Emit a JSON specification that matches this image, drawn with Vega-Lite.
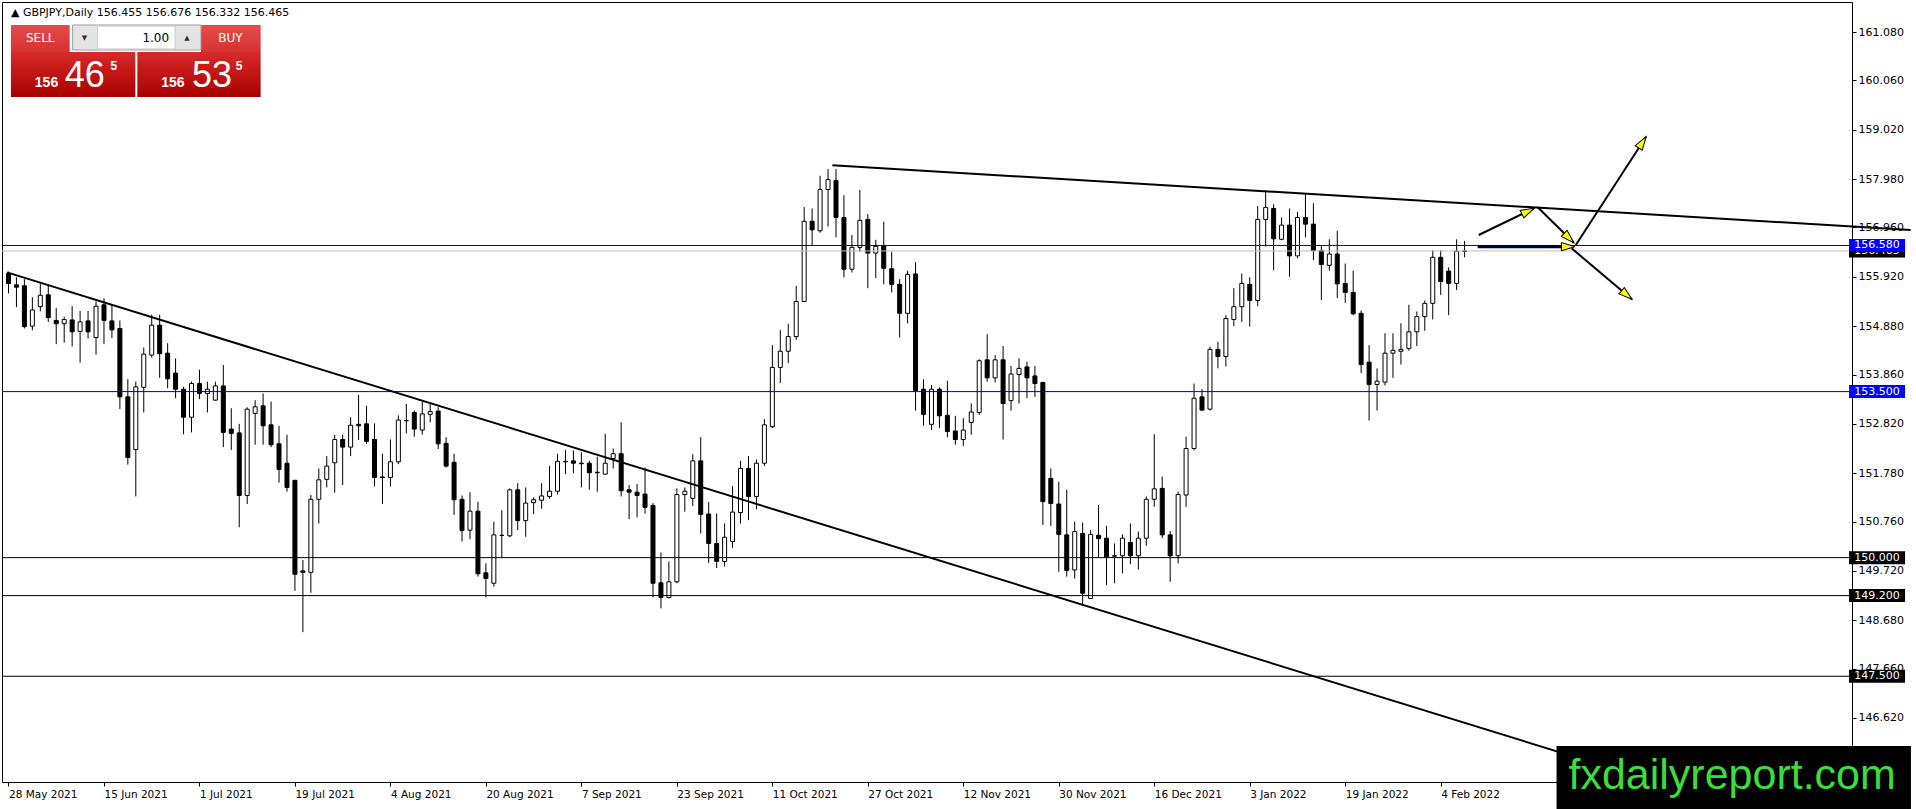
{
  "$schema": "https://vega.github.io/schema/vega-lite/v6.json",
  "width": 1850,
  "height": 780,
  "autosize": {"type": "none"},
  "padding": {"left": 2, "top": 2, "right": 64, "bottom": 27},
  "background": "white",
  "config": {
    "font": "DejaVu Sans",
    "view": {"stroke": "black", "strokeWidth": 1},
    "axis": {"grid": false, "domain": false, "labelColor": "black", "tickColor": "black"}
  },
  "datasets": {
    "candles": [
      {"d":"2021-05-28","i":0,"o":155.99,"h":156.03,"l":155.57,"c":155.78},
      {"d":"2021-05-31","i":1,"o":155.75,"h":155.91,"l":155.28,"c":155.70},
      {"d":"2021-06-01","i":2,"o":155.73,"h":155.87,"l":154.83,"c":154.87},
      {"d":"2021-06-02","i":3,"o":154.88,"h":155.49,"l":154.79,"c":155.22},
      {"d":"2021-06-03","i":4,"o":155.29,"h":155.78,"l":155.19,"c":155.53},
      {"d":"2021-06-04","i":5,"o":155.54,"h":155.75,"l":154.97,"c":155.06},
      {"d":"2021-06-07","i":6,"o":155.00,"h":155.26,"l":154.50,"c":154.93},
      {"d":"2021-06-08","i":7,"o":154.93,"h":155.08,"l":154.53,"c":155.02},
      {"d":"2021-06-09","i":8,"o":155.01,"h":155.30,"l":154.45,"c":154.76},
      {"d":"2021-06-10","i":9,"o":154.77,"h":155.20,"l":154.11,"c":154.97},
      {"d":"2021-06-11","i":10,"o":154.99,"h":155.20,"l":154.62,"c":154.76},
      {"d":"2021-06-14","i":11,"o":154.64,"h":155.40,"l":154.28,"c":155.30},
      {"d":"2021-06-15","i":12,"o":155.33,"h":155.47,"l":154.50,"c":155.00},
      {"d":"2021-06-16","i":13,"o":154.99,"h":155.33,"l":154.63,"c":154.80},
      {"d":"2021-06-17","i":14,"o":154.83,"h":155.00,"l":153.13,"c":153.39},
      {"d":"2021-06-18","i":15,"o":153.39,"h":153.76,"l":151.96,"c":152.11},
      {"d":"2021-06-21","i":16,"o":152.28,"h":153.71,"l":151.29,"c":153.60},
      {"d":"2021-06-22","i":17,"o":153.59,"h":154.43,"l":153.06,"c":154.29},
      {"d":"2021-06-23","i":18,"o":154.27,"h":155.12,"l":154.22,"c":154.90},
      {"d":"2021-06-24","i":19,"o":154.90,"h":155.12,"l":153.79,"c":154.30},
      {"d":"2021-06-25","i":20,"o":154.31,"h":154.52,"l":153.57,"c":153.77},
      {"d":"2021-06-28","i":21,"o":153.89,"h":154.20,"l":153.36,"c":153.55},
      {"d":"2021-06-29","i":22,"o":153.55,"h":153.60,"l":152.60,"c":152.96},
      {"d":"2021-06-30","i":23,"o":152.96,"h":153.71,"l":152.64,"c":153.67},
      {"d":"2021-07-01","i":24,"o":153.67,"h":153.96,"l":153.34,"c":153.46},
      {"d":"2021-07-02","i":25,"o":153.46,"h":153.71,"l":153.06,"c":153.55},
      {"d":"2021-07-05","i":26,"o":153.32,"h":153.71,"l":153.31,"c":153.62},
      {"d":"2021-07-06","i":27,"o":153.62,"h":154.06,"l":152.33,"c":152.64},
      {"d":"2021-07-07","i":28,"o":152.71,"h":153.15,"l":152.27,"c":152.62},
      {"d":"2021-07-08","i":29,"o":152.63,"h":152.82,"l":150.64,"c":151.31},
      {"d":"2021-07-09","i":30,"o":151.31,"h":153.17,"l":151.13,"c":153.13},
      {"d":"2021-07-12","i":31,"o":153.04,"h":153.32,"l":152.38,"c":153.18},
      {"d":"2021-07-13","i":32,"o":153.20,"h":153.46,"l":152.38,"c":152.78},
      {"d":"2021-07-14","i":33,"o":152.80,"h":153.29,"l":152.33,"c":152.38},
      {"d":"2021-07-15","i":34,"o":152.40,"h":152.78,"l":151.58,"c":151.86},
      {"d":"2021-07-16","i":35,"o":151.99,"h":152.59,"l":151.39,"c":151.48},
      {"d":"2021-07-19","i":36,"o":151.63,"h":151.64,"l":149.30,"c":149.65},
      {"d":"2021-07-20","i":37,"o":149.72,"h":149.95,"l":148.43,"c":149.69},
      {"d":"2021-07-21","i":38,"o":149.69,"h":151.32,"l":149.26,"c":151.23},
      {"d":"2021-07-22","i":39,"o":151.23,"h":151.88,"l":150.72,"c":151.64},
      {"d":"2021-07-23","i":40,"o":151.65,"h":152.14,"l":151.48,"c":151.93},
      {"d":"2021-07-26","i":41,"o":152.00,"h":152.59,"l":151.37,"c":152.49},
      {"d":"2021-07-27","i":42,"o":152.49,"h":152.59,"l":151.53,"c":152.33},
      {"d":"2021-07-28","i":43,"o":152.33,"h":152.96,"l":152.14,"c":152.79},
      {"d":"2021-07-29","i":44,"o":152.81,"h":153.43,"l":152.48,"c":152.78},
      {"d":"2021-07-30","i":45,"o":152.82,"h":153.20,"l":152.40,"c":152.45},
      {"d":"2021-08-02","i":46,"o":152.49,"h":152.83,"l":151.50,"c":151.69},
      {"d":"2021-08-03","i":47,"o":151.70,"h":152.19,"l":151.13,"c":151.69},
      {"d":"2021-08-04","i":48,"o":151.69,"h":152.49,"l":151.50,"c":152.02},
      {"d":"2021-08-05","i":49,"o":152.02,"h":153.00,"l":151.97,"c":152.90},
      {"d":"2021-08-06","i":50,"o":152.885,"h":153.24,"l":152.62,"c":152.89},
      {"d":"2021-08-09","i":51,"o":153.06,"h":153.10,"l":152.55,"c":152.71},
      {"d":"2021-08-10","i":52,"o":152.69,"h":153.29,"l":152.59,"c":153.03},
      {"d":"2021-08-11","i":53,"o":153.02,"h":153.25,"l":152.85,"c":153.08},
      {"d":"2021-08-12","i":54,"o":153.09,"h":153.17,"l":152.29,"c":152.40},
      {"d":"2021-08-13","i":55,"o":152.41,"h":152.54,"l":151.90,"c":151.93},
      {"d":"2021-08-16","i":56,"o":152.01,"h":152.19,"l":150.90,"c":151.22},
      {"d":"2021-08-17","i":57,"o":151.23,"h":151.31,"l":150.34,"c":150.57},
      {"d":"2021-08-18","i":58,"o":150.58,"h":151.38,"l":150.39,"c":150.98},
      {"d":"2021-08-19","i":59,"o":150.98,"h":151.18,"l":149.60,"c":149.66},
      {"d":"2021-08-20","i":60,"o":149.68,"h":149.88,"l":149.16,"c":149.56},
      {"d":"2021-08-23","i":61,"o":149.46,"h":150.76,"l":149.39,"c":150.48},
      {"d":"2021-08-24","i":62,"o":150.47,"h":151.00,"l":150.01,"c":150.47},
      {"d":"2021-08-25","i":63,"o":150.46,"h":151.46,"l":150.43,"c":151.43},
      {"d":"2021-08-26","i":64,"o":151.43,"h":151.57,"l":150.58,"c":150.78},
      {"d":"2021-08-27","i":65,"o":150.78,"h":151.48,"l":150.44,"c":151.15},
      {"d":"2021-08-30","i":66,"o":151.16,"h":151.27,"l":150.92,"c":151.22},
      {"d":"2021-08-31","i":67,"o":151.21,"h":151.57,"l":151.03,"c":151.30},
      {"d":"2021-09-01","i":68,"o":151.29,"h":151.93,"l":151.24,"c":151.40},
      {"d":"2021-09-02","i":69,"o":151.40,"h":152.19,"l":151.33,"c":152.03},
      {"d":"2021-09-03","i":70,"o":152.03,"h":152.27,"l":151.76,"c":152.02},
      {"d":"2021-09-06","i":71,"o":152.04,"h":152.26,"l":151.78,"c":151.99},
      {"d":"2021-09-07","i":72,"o":151.99,"h":152.22,"l":151.48,"c":151.98},
      {"d":"2021-09-08","i":73,"o":151.99,"h":152.04,"l":151.43,"c":151.79},
      {"d":"2021-09-09","i":74,"o":151.80,"h":152.13,"l":151.39,"c":151.79},
      {"d":"2021-09-10","i":75,"o":151.76,"h":152.61,"l":151.75,"c":151.99},
      {"d":"2021-09-13","i":76,"o":152.09,"h":152.30,"l":151.88,"c":152.19},
      {"d":"2021-09-14","i":77,"o":152.19,"h":152.85,"l":151.29,"c":151.41},
      {"d":"2021-09-15","i":78,"o":151.43,"h":151.53,"l":150.81,"c":151.38},
      {"d":"2021-09-16","i":79,"o":151.38,"h":151.55,"l":150.85,"c":151.31},
      {"d":"2021-09-17","i":80,"o":151.34,"h":151.90,"l":150.93,"c":151.06},
      {"d":"2021-09-20","i":81,"o":151.10,"h":151.15,"l":149.16,"c":149.46},
      {"d":"2021-09-21","i":82,"o":149.47,"h":150.11,"l":148.93,"c":149.16},
      {"d":"2021-09-22","i":83,"o":149.16,"h":149.92,"l":149.14,"c":149.49},
      {"d":"2021-09-23","i":84,"o":149.49,"h":151.46,"l":149.46,"c":151.33},
      {"d":"2021-09-24","i":85,"o":151.33,"h":151.48,"l":150.97,"c":151.40},
      {"d":"2021-09-27","i":86,"o":151.25,"h":152.18,"l":151.09,"c":152.04},
      {"d":"2021-09-28","i":87,"o":152.04,"h":152.54,"l":150.51,"c":150.91},
      {"d":"2021-09-29","i":88,"o":150.92,"h":151.17,"l":149.89,"c":150.30},
      {"d":"2021-09-30","i":89,"o":150.30,"h":150.93,"l":149.78,"c":149.92},
      {"d":"2021-10-01","i":90,"o":149.92,"h":150.72,"l":149.81,"c":150.43},
      {"d":"2021-10-04","i":91,"o":150.34,"h":151.51,"l":150.20,"c":150.96},
      {"d":"2021-10-05","i":92,"o":150.95,"h":152.04,"l":150.72,"c":151.88},
      {"d":"2021-10-06","i":93,"o":151.88,"h":152.14,"l":150.79,"c":151.29},
      {"d":"2021-10-07","i":94,"o":151.29,"h":152.07,"l":151.02,"c":151.99},
      {"d":"2021-10-08","i":95,"o":151.99,"h":152.92,"l":151.93,"c":152.80},
      {"d":"2021-10-11","i":96,"o":152.76,"h":154.48,"l":152.73,"c":154.01},
      {"d":"2021-10-12","i":97,"o":154.01,"h":154.80,"l":153.68,"c":154.35},
      {"d":"2021-10-13","i":98,"o":154.35,"h":154.93,"l":154.10,"c":154.66},
      {"d":"2021-10-14","i":99,"o":154.66,"h":155.73,"l":154.59,"c":155.40},
      {"d":"2021-10-15","i":100,"o":155.40,"h":157.39,"l":155.39,"c":157.09},
      {"d":"2021-10-18","i":101,"o":157.09,"h":157.36,"l":156.59,"c":156.91},
      {"d":"2021-10-19","i":102,"o":156.89,"h":158.05,"l":156.85,"c":157.76},
      {"d":"2021-10-20","i":103,"o":157.76,"h":158.19,"l":156.98,"c":157.97},
      {"d":"2021-10-21","i":104,"o":157.95,"h":158.19,"l":156.75,"c":157.17},
      {"d":"2021-10-22","i":105,"o":157.17,"h":157.64,"l":155.91,"c":156.08},
      {"d":"2021-10-25","i":106,"o":156.08,"h":156.80,"l":156.01,"c":156.54},
      {"d":"2021-10-26","i":107,"o":156.54,"h":157.75,"l":156.45,"c":157.11},
      {"d":"2021-10-27","i":108,"o":157.13,"h":157.24,"l":155.68,"c":156.42},
      {"d":"2021-10-28","i":109,"o":156.42,"h":156.70,"l":155.89,"c":156.56},
      {"d":"2021-10-29","i":110,"o":156.58,"h":157.08,"l":155.76,"c":156.10},
      {"d":"2021-11-01","i":111,"o":156.09,"h":156.45,"l":155.59,"c":155.76},
      {"d":"2021-11-02","i":112,"o":155.76,"h":155.87,"l":154.64,"c":155.15},
      {"d":"2021-11-03","i":113,"o":155.15,"h":156.05,"l":154.94,"c":155.97},
      {"d":"2021-11-04","i":114,"o":155.98,"h":156.23,"l":153.10,"c":153.52},
      {"d":"2021-11-05","i":115,"o":153.55,"h":153.76,"l":152.78,"c":153.02},
      {"d":"2021-11-08","i":116,"o":152.81,"h":153.64,"l":152.69,"c":153.55},
      {"d":"2021-11-09","i":117,"o":153.55,"h":153.59,"l":152.73,"c":152.99},
      {"d":"2021-11-10","i":118,"o":153.00,"h":153.73,"l":152.54,"c":152.66},
      {"d":"2021-11-11","i":119,"o":152.67,"h":152.99,"l":152.38,"c":152.49},
      {"d":"2021-11-12","i":120,"o":152.49,"h":152.94,"l":152.35,"c":152.69},
      {"d":"2021-11-15","i":121,"o":152.85,"h":153.25,"l":152.59,"c":153.07},
      {"d":"2021-11-16","i":122,"o":153.06,"h":154.18,"l":153.01,"c":154.15},
      {"d":"2021-11-17","i":123,"o":154.17,"h":154.71,"l":153.71,"c":153.79},
      {"d":"2021-11-18","i":124,"o":153.79,"h":154.27,"l":153.69,"c":154.17},
      {"d":"2021-11-19","i":125,"o":154.17,"h":154.46,"l":152.49,"c":153.25},
      {"d":"2021-11-22","i":126,"o":153.31,"h":154.04,"l":153.10,"c":153.87},
      {"d":"2021-11-23","i":127,"o":153.86,"h":154.20,"l":153.25,"c":153.99},
      {"d":"2021-11-24","i":128,"o":154.02,"h":154.13,"l":153.36,"c":153.79},
      {"d":"2021-11-25","i":129,"o":153.83,"h":154.04,"l":153.39,"c":153.67},
      {"d":"2021-11-26","i":130,"o":153.69,"h":153.71,"l":150.69,"c":151.18},
      {"d":"2021-11-29","i":131,"o":151.67,"h":151.88,"l":150.67,"c":151.14},
      {"d":"2021-11-30","i":132,"o":151.13,"h":151.60,"l":149.70,"c":150.49},
      {"d":"2021-12-01","i":133,"o":150.48,"h":151.43,"l":149.60,"c":149.73},
      {"d":"2021-12-02","i":134,"o":149.74,"h":150.76,"l":149.56,"c":150.55},
      {"d":"2021-12-03","i":135,"o":150.51,"h":150.74,"l":148.98,"c":149.25},
      {"d":"2021-12-06","i":136,"o":149.14,"h":150.58,"l":149.13,"c":150.49},
      {"d":"2021-12-07","i":137,"o":150.47,"h":151.11,"l":150.00,"c":150.40},
      {"d":"2021-12-08","i":138,"o":150.41,"h":150.67,"l":149.42,"c":150.01},
      {"d":"2021-12-09","i":139,"o":150.03,"h":150.30,"l":149.46,"c":150.04},
      {"d":"2021-12-10","i":140,"o":150.04,"h":150.49,"l":149.67,"c":150.41},
      {"d":"2021-12-13","i":141,"o":150.32,"h":150.72,"l":149.86,"c":150.04},
      {"d":"2021-12-14","i":142,"o":150.04,"h":150.55,"l":149.75,"c":150.41},
      {"d":"2021-12-15","i":143,"o":150.41,"h":151.29,"l":150.25,"c":151.23},
      {"d":"2021-12-16","i":144,"o":151.23,"h":152.60,"l":151.07,"c":151.45},
      {"d":"2021-12-17","i":145,"o":151.46,"h":151.71,"l":150.41,"c":150.48},
      {"d":"2021-12-20","i":146,"o":150.48,"h":150.56,"l":149.49,"c":150.04},
      {"d":"2021-12-21","i":147,"o":150.04,"h":151.39,"l":149.88,"c":151.33},
      {"d":"2021-12-22","i":148,"o":151.32,"h":152.55,"l":151.07,"c":152.30},
      {"d":"2021-12-23","i":149,"o":152.30,"h":153.67,"l":152.26,"c":153.36},
      {"d":"2021-12-24","i":150,"o":153.39,"h":153.55,"l":153.10,"c":153.11},
      {"d":"2021-12-27","i":151,"o":153.13,"h":154.45,"l":153.10,"c":154.39},
      {"d":"2021-12-28","i":152,"o":154.39,"h":154.55,"l":153.99,"c":154.24},
      {"d":"2021-12-29","i":153,"o":154.24,"h":155.11,"l":154.03,"c":155.04},
      {"d":"2021-12-30","i":154,"o":155.02,"h":155.68,"l":154.88,"c":155.29},
      {"d":"2021-12-31","i":155,"o":155.29,"h":155.99,"l":154.97,"c":155.78},
      {"d":"2022-01-03","i":156,"o":155.76,"h":155.91,"l":154.87,"c":155.42},
      {"d":"2022-01-04","i":157,"o":155.42,"h":157.41,"l":155.30,"c":157.13},
      {"d":"2022-01-05","i":158,"o":157.13,"h":157.75,"l":156.56,"c":157.38},
      {"d":"2022-01-06","i":159,"o":157.36,"h":157.45,"l":156.06,"c":156.72},
      {"d":"2022-01-07","i":160,"o":156.71,"h":157.17,"l":156.69,"c":157.01},
      {"d":"2022-01-10","i":161,"o":157.01,"h":157.36,"l":155.92,"c":156.36},
      {"d":"2022-01-11","i":162,"o":156.36,"h":157.29,"l":156.31,"c":157.17},
      {"d":"2022-01-12","i":163,"o":157.17,"h":157.67,"l":156.75,"c":157.03},
      {"d":"2022-01-13","i":164,"o":157.03,"h":157.47,"l":156.27,"c":156.47},
      {"d":"2022-01-14","i":165,"o":156.47,"h":156.59,"l":155.43,"c":156.18},
      {"d":"2022-01-17","i":166,"o":156.16,"h":156.71,"l":156.05,"c":156.40},
      {"d":"2022-01-18","i":167,"o":156.40,"h":156.89,"l":155.47,"c":155.77},
      {"d":"2022-01-19","i":168,"o":155.78,"h":156.20,"l":155.37,"c":155.59},
      {"d":"2022-01-20","i":169,"o":155.59,"h":156.05,"l":155.11,"c":155.14},
      {"d":"2022-01-21","i":170,"o":155.15,"h":155.21,"l":153.89,"c":154.07},
      {"d":"2022-01-24","i":171,"o":154.12,"h":154.48,"l":152.89,"c":153.65},
      {"d":"2022-01-25","i":172,"o":153.65,"h":153.99,"l":153.10,"c":153.72},
      {"d":"2022-01-26","i":173,"o":153.70,"h":154.73,"l":153.63,"c":154.31},
      {"d":"2022-01-27","i":174,"o":154.31,"h":154.73,"l":153.79,"c":154.37},
      {"d":"2022-01-28","i":175,"o":154.35,"h":154.94,"l":154.07,"c":154.39},
      {"d":"2022-01-31","i":176,"o":154.41,"h":155.33,"l":154.36,"c":154.76},
      {"d":"2022-02-01","i":177,"o":154.76,"h":155.19,"l":154.46,"c":155.08},
      {"d":"2022-02-02","i":178,"o":155.08,"h":155.42,"l":154.78,"c":155.36},
      {"d":"2022-02-03","i":179,"o":155.36,"h":156.48,"l":155.02,"c":156.33},
      {"d":"2022-02-04","i":180,"o":156.33,"h":156.48,"l":155.54,"c":155.82},
      {"d":"2022-02-07","i":181,"o":156.04,"h":156.12,"l":155.11,"c":155.78},
      {"d":"2022-02-08","i":182,"o":155.78,"h":156.71,"l":155.64,"c":156.46},
      {"d":"2022-02-09","i":183,"o":156.455,"h":156.676,"l":156.332,"c":156.465}
    ],
    "levels": [
      {"price": 156.465, "label": "156.465", "kind": "bid"},
      {"price": 156.58, "label": "156.580", "kind": "blue"},
      {"price": 153.5, "label": "153.500", "kind": "blue"},
      {"price": 150.0, "label": "150.000", "kind": "black"},
      {"price": 149.2, "label": "149.200", "kind": "black"},
      {"price": 147.5, "label": "147.500", "kind": "black"}
    ],
    "lines": [
      {"name": "upper trend", "i1": 103.55, "p1": 158.27, "i2": 239.06, "p2": 156.905},
      {"name": "lower trend", "i1": -0.1875, "p1": 156.013, "i2": 200, "p2": 145.637},
      {"name": "up leg", "i1": 184.78, "p1": 156.801, "i2": 191.73, "p2": 157.364},
      {"name": "pullback", "i1": 192.19, "p1": 157.385, "i2": 196.73, "p2": 156.639},
      {"name": "breakout", "i1": 196.98, "p1": 156.59, "i2": 205.81, "p2": 158.873},
      {"name": "breakdown", "i1": 196.44, "p1": 156.521, "i2": 204.03, "p2": 155.446}
    ]
  },
  "layer": [
    {
      "data": {"name": "candles"},
      "mark": {"type": "rule", "color": "black", "strokeWidth": 1},
      "encoding": {
        "x": {
          "field": "i", "type": "quantitative",
          "scale": {"domain": [-0.1875, 231.0625], "nice": false, "zero": false},
          "axis": {
            "values": [0, 12, 24, 36, 48, 60, 72, 84, 96, 108, 120, 132, 144, 156, 168, 180],
            "labelExpr": "['28 May 2021','15 Jun 2021','1 Jul 2021','19 Jul 2021','4 Aug 2021','20 Aug 2021','7 Sep 2021','23 Sep 2021','11 Oct 2021','27 Oct 2021','12 Nov 2021','30 Nov 2021','16 Dec 2021','3 Jan 2022','19 Jan 2022','4 Feb 2022'][round(datum.value / 12)]",
            "title": null, "tickSize": 4, "labelAlign": "left", "labelBaseline": "top",
            "labelPadding": 3, "labelFontSize": 10.5, "labelFont": "DejaVu Sans",
            "labelOverlap": false, "labelFlush": false, "labelBound": false
          }
        },
        "y": {
          "field": "l", "type": "quantitative",
          "scale": {"domain": [145.2707, 161.7124], "nice": false, "zero": false},
          "axis": {
            "orient": "right",
            "values": [146.62, 147.66, 148.68, 149.72, 150.76, 151.78, 152.82, 153.86, 154.88, 155.92, 156.96, 157.98, 159.02, 160.06, 161.08],
            "format": ".3f", "title": null, "tickSize": 4, "labelPadding": 2,
            "labelFontSize": 11, "labelFont": "DejaVu Sans", "labelBaseline": "middle",
            "labelOverlap": false, "labelFlush": false, "labelBound": false
          }
        },
        "y2": {"field": "h"}
      }
    },
    {
      "data": {"name": "candles"},
      "mark": {"type": "bar", "width": 4, "stroke": "black", "strokeWidth": 1},
      "encoding": {
        "x": {"field": "i", "type": "quantitative"},
        "y": {"field": "o", "type": "quantitative"},
        "y2": {"field": "c"},
        "fill": {"condition": {"test": "datum.c >= datum.o", "value": "white"}, "value": "black"}
      }
    },
    {
      "data": {"name": "levels"},
      "mark": {"type": "rule", "strokeWidth": 1},
      "encoding": {
        "y": {"field": "price", "type": "quantitative"},
        "stroke": {
          "field": "kind", "type": "nominal", "legend": null,
          "scale": {"domain": ["bid", "blue", "black"], "range": ["#c0c0c0", "#0000b4", "#000000"]}
        }
      }
    },
    {
      "data": {"name": "lines"},
      "mark": {"type": "rule", "color": "black", "strokeWidth": 2},
      "encoding": {
        "x": {"field": "i1", "type": "quantitative"},
        "y": {"field": "p1", "type": "quantitative"},
        "x2": {"field": "i2"},
        "y2": {"field": "p2"}
      }
    },
    {
      "data": {"values": [{}]},
      "mark": {"type": "rule", "color": "#000033", "strokeWidth": 3},
      "encoding": {
        "x": {"datum": 184.65, "type": "quantitative"},
        "x2": {"datum": 196.69},
        "y": {"datum": 156.555, "type": "quantitative"}
      }
    },
    {
      "data": {"values": [{}]},
      "mark": {"type": "point", "shape": "M0,0L0.62,2L-0.62,2Z", "size": 180, "filled": true, "fill": "#ffff00", "stroke": "black", "strokeWidth": 1, "opacity": 1, "angle": 64},
      "encoding": {
        "x": {"datum": 191.73, "type": "quantitative"},
        "y": {"datum": 157.364, "type": "quantitative"}
      }
    },
    {
      "data": {"values": [{}]},
      "mark": {"type": "point", "shape": "M0,0L0.62,2L-0.62,2Z", "size": 180, "filled": true, "fill": "#ffff00", "stroke": "black", "strokeWidth": 1, "opacity": 1, "angle": 134},
      "encoding": {
        "x": {"datum": 196.73, "type": "quantitative"},
        "y": {"datum": 156.639, "type": "quantitative"}
      }
    },
    {
      "data": {"values": [{}]},
      "mark": {"type": "point", "shape": "M0,0L0.62,2L-0.62,2Z", "size": 180, "filled": true, "fill": "#ffff00", "stroke": "black", "strokeWidth": 1, "opacity": 1, "angle": 90},
      "encoding": {
        "x": {"datum": 196.85, "type": "quantitative"},
        "y": {"datum": 156.555, "type": "quantitative"}
      }
    },
    {
      "data": {"values": [{}]},
      "mark": {"type": "point", "shape": "M0,0L0.62,2L-0.62,2Z", "size": 180, "filled": true, "fill": "#ffff00", "stroke": "black", "strokeWidth": 1, "opacity": 1, "angle": 33},
      "encoding": {
        "x": {"datum": 205.81, "type": "quantitative"},
        "y": {"datum": 158.873, "type": "quantitative"}
      }
    },
    {
      "data": {"values": [{}]},
      "mark": {"type": "point", "shape": "M0,0L0.62,2L-0.62,2Z", "size": 180, "filled": true, "fill": "#ffff00", "stroke": "black", "strokeWidth": 1, "opacity": 1, "angle": 130},
      "encoding": {
        "x": {"datum": 204.03, "type": "quantitative"},
        "y": {"datum": 155.446, "type": "quantitative"}
      }
    },
    {
      "data": {"name": "levels"},
      "transform": [{"filter": "datum.kind == 'bid'"}],
      "mark": {"type": "point", "shape": "M-1,-0.232L1,-0.232L1,0.232L-1,0.232Z", "size": 3136, "filled": true, "fill": "black", "strokeWidth": 0, "opacity": 1},
      "encoding": {
        "x": {"datum": 234.84, "type": "quantitative"},
        "y": {"field": "price", "type": "quantitative"}
      }
    },
    {
      "data": {"name": "levels"},
      "transform": [{"filter": "datum.kind == 'bid'"}],
      "mark": {"type": "text", "color": "white", "font": "DejaVu Sans", "fontSize": 11, "align": "center", "baseline": "middle"},
      "encoding": {
        "x": {"datum": 234.84, "type": "quantitative"},
        "y": {"field": "price", "type": "quantitative"},
        "text": {"field": "label"}
      }
    },
    {
      "data": {"name": "levels"},
      "transform": [{"filter": "datum.kind != 'bid'"}],
      "mark": {"type": "point", "shape": "M-1,-0.232L1,-0.232L1,0.232L-1,0.232Z", "size": 3136, "filled": true, "strokeWidth": 0, "opacity": 1},
      "encoding": {
        "x": {"datum": 234.84, "type": "quantitative"},
        "y": {"field": "price", "type": "quantitative"},
        "fill": {
          "field": "kind", "type": "nominal", "legend": null,
          "scale": {"domain": ["blue", "black"], "range": ["#0000ff", "#000000"]}
        }
      }
    },
    {
      "data": {"name": "levels"},
      "transform": [{"filter": "datum.kind != 'bid'"}],
      "mark": {"type": "text", "color": "white", "font": "DejaVu Sans", "fontSize": 11, "align": "center", "baseline": "middle"},
      "encoding": {
        "x": {"datum": 234.84, "type": "quantitative"},
        "y": {"field": "price", "type": "quantitative"},
        "text": {"field": "label"}
      }
    },
    {
      "data": {"values": [{}]},
      "mark": {"type": "rect", "fill": "black"},
      "encoding": {
        "x": {"datum": 194.56, "type": "quantitative"},
        "x2": {"datum": 239.1},
        "y": {"datum": 146.029, "type": "quantitative"},
        "y2": {"datum": 144.6}
      }
    },
    {
      "data": {"values": [{}]},
      "mark": {"type": "text", "text": "fxdailyreport.com", "font": "Liberation Sans", "fontSize": 43, "color": "#3ddc3d", "align": "center", "baseline": "alphabetic"},
      "encoding": {
        "x": {"datum": 216.63, "type": "quantitative"},
        "y": {"datum": 145.123, "type": "quantitative"}
      }
    },
    {
      "data": {"values": [{}]},
      "mark": {"type": "text", "text": "▲ GBPJPY,Daily  156.455 156.676 156.332 156.465", "font": "DejaVu Sans", "fontSize": 11, "color": "black", "align": "left", "baseline": "middle"},
      "encoding": {
        "x": {"datum": 0.31, "type": "quantitative"},
        "y": {"datum": 161.48, "type": "quantitative"}
      }
    },
    {
      "data": {"values": [{}]},
      "mark": {"type": "rect", "fill": {"gradient": "linear", "x1": 0, "y1": 0, "x2": 0, "y2": 1, "stops": [{"offset": 0, "color": "#e64c4c"}, {"offset": 1, "color": "#d63232"}]}},
      "encoding": {
        "x": {"datum": 0.31, "type": "quantitative"},
        "x2": {"datum": 7.69},
        "y": {"datum": 161.228, "type": "quantitative"},
        "y2": {"datum": 160.658}
      }
    },
    {
      "data": {"values": [{}]},
      "mark": {"type": "rect", "fill": {"gradient": "linear", "x1": 0, "y1": 0, "x2": 0, "y2": 1, "stops": [{"offset": 0, "color": "#e64c4c"}, {"offset": 1, "color": "#d63232"}]}},
      "encoding": {
        "x": {"datum": 24.19, "type": "quantitative"},
        "x2": {"datum": 31.69},
        "y": {"datum": 161.228, "type": "quantitative"},
        "y2": {"datum": 160.658}
      }
    },
    {
      "data": {"values": [{}]},
      "mark": {"type": "rect", "fill": {"gradient": "linear", "x1": 0, "y1": 0, "x2": 0, "y2": 1, "stops": [{"offset": 0, "color": "#d82a2a"}, {"offset": 1, "color": "#a80000"}]}},
      "encoding": {
        "x": {"datum": 0.31, "type": "quantitative"},
        "x2": {"datum": 15.94},
        "y": {"datum": 160.658, "type": "quantitative"},
        "y2": {"datum": 159.71}
      }
    },
    {
      "data": {"values": [{}]},
      "mark": {"type": "rect", "fill": {"gradient": "linear", "x1": 0, "y1": 0, "x2": 0, "y2": 1, "stops": [{"offset": 0, "color": "#d82a2a"}, {"offset": 1, "color": "#a80000"}]}},
      "encoding": {
        "x": {"datum": 16.19, "type": "quantitative"},
        "x2": {"datum": 31.69},
        "y": {"datum": 160.658, "type": "quantitative"},
        "y2": {"datum": 159.71}
      }
    },
    {
      "data": {"values": [{}]},
      "mark": {"type": "rect", "fill": "#e4e4e4", "stroke": "#a0a0a0", "strokeWidth": 1},
      "encoding": {
        "x": {"datum": 8.06, "type": "quantitative"},
        "x2": {"datum": 24.19},
        "y": {"datum": 161.228, "type": "quantitative"},
        "y2": {"datum": 160.701}
      }
    },
    {
      "data": {"values": [{}]},
      "mark": {"type": "rect", "fill": "white", "stroke": "#c8c8c8", "strokeWidth": 1},
      "encoding": {
        "x": {"datum": 11.19, "type": "quantitative"},
        "x2": {"datum": 20.94},
        "y": {"datum": 161.206, "type": "quantitative"},
        "y2": {"datum": 160.722}
      }
    },
    {
      "data": {"values": [{}]},
      "mark": {"type": "text", "text": "SELL", "font": "DejaVu Sans", "fontSize": 12, "color": "white", "align": "center", "baseline": "middle"},
      "encoding": {
        "x": {"datum": 3.99, "type": "quantitative"},
        "y": {"datum": 160.954, "type": "quantitative"}
      }
    },
    {
      "data": {"values": [{}]},
      "mark": {"type": "text", "text": "BUY", "font": "DejaVu Sans", "fontSize": 12, "color": "white", "align": "center", "baseline": "middle"},
      "encoding": {
        "x": {"datum": 27.9, "type": "quantitative"},
        "y": {"datum": 160.954, "type": "quantitative"}
      }
    },
    {
      "data": {"values": [{}]},
      "mark": {"type": "text", "text": "1.00", "font": "DejaVu Sans", "fontSize": 12, "color": "black", "align": "right", "baseline": "middle"},
      "encoding": {
        "x": {"datum": 20.19, "type": "quantitative"},
        "y": {"datum": 160.954, "type": "quantitative"}
      }
    },
    {
      "data": {"values": [{}]},
      "mark": {"type": "text", "text": "▼", "font": "DejaVu Sans", "fontSize": 7, "color": "#303030", "align": "center", "baseline": "middle"},
      "encoding": {
        "x": {"datum": 9.56, "type": "quantitative"},
        "y": {"datum": 160.954, "type": "quantitative"}
      }
    },
    {
      "data": {"values": [{}]},
      "mark": {"type": "text", "text": "▲", "font": "DejaVu Sans", "fontSize": 7, "color": "#303030", "align": "center", "baseline": "middle"},
      "encoding": {
        "x": {"datum": 22.44, "type": "quantitative"},
        "y": {"datum": 160.954, "type": "quantitative"}
      }
    },
    {
      "data": {"values": [{}]},
      "mark": {"type": "text", "text": "156", "font": "Liberation Sans", "fontSize": 14, "fontWeight": "bold", "color": "white", "align": "left", "baseline": "alphabetic"},
      "encoding": {
        "x": {"datum": 3.31, "type": "quantitative"},
        "y": {"datum": 159.921, "type": "quantitative"}
      }
    },
    {
      "data": {"values": [{}]},
      "mark": {"type": "text", "text": "46", "font": "Liberation Sans", "fontSize": 36, "color": "white", "align": "left", "baseline": "alphabetic"},
      "encoding": {
        "x": {"datum": 7.06, "type": "quantitative"},
        "y": {"datum": 159.921, "type": "quantitative"}
      }
    },
    {
      "data": {"values": [{}]},
      "mark": {"type": "text", "text": "5", "font": "Liberation Sans", "fontSize": 12, "fontWeight": "bold", "color": "white", "align": "left", "baseline": "alphabetic"},
      "encoding": {
        "x": {"datum": 12.81, "type": "quantitative"},
        "y": {"datum": 160.279, "type": "quantitative"}
      }
    },
    {
      "data": {"values": [{}]},
      "mark": {"type": "text", "text": "156", "font": "Liberation Sans", "fontSize": 14, "fontWeight": "bold", "color": "white", "align": "left", "baseline": "alphabetic"},
      "encoding": {
        "x": {"datum": 19.19, "type": "quantitative"},
        "y": {"datum": 159.921, "type": "quantitative"}
      }
    },
    {
      "data": {"values": [{}]},
      "mark": {"type": "text", "text": "53", "font": "Liberation Sans", "fontSize": 36, "color": "white", "align": "left", "baseline": "alphabetic"},
      "encoding": {
        "x": {"datum": 23.06, "type": "quantitative"},
        "y": {"datum": 159.921, "type": "quantitative"}
      }
    },
    {
      "data": {"values": [{}]},
      "mark": {"type": "text", "text": "5", "font": "Liberation Sans", "fontSize": 12, "fontWeight": "bold", "color": "white", "align": "left", "baseline": "alphabetic"},
      "encoding": {
        "x": {"datum": 28.56, "type": "quantitative"},
        "y": {"datum": 160.279, "type": "quantitative"}
      }
    }
  ]
}
